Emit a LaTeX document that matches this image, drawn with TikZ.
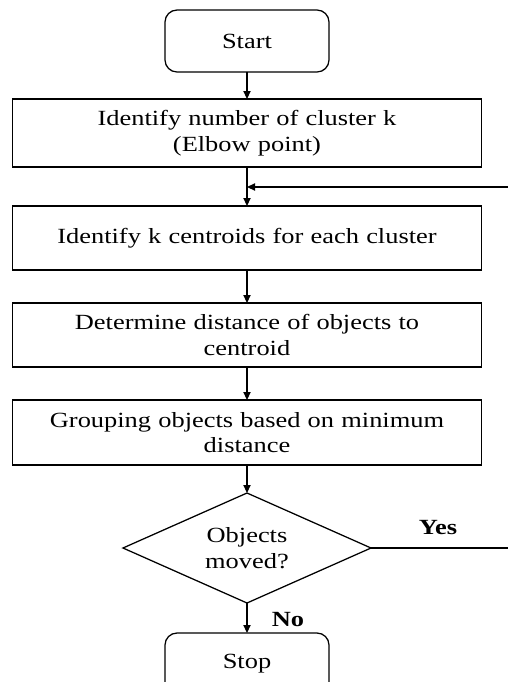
\documentclass[tikz,border=0pt]{standalone}
\usepackage{fontspec}
\setmainfont{Liberation Serif}[FakeStretch=1.22]
\usetikzlibrary{shapes.geometric, arrows.meta, positioning}
\newcommand\flowfont{\fontsize{15.4}{18.3}\selectfont}
\tikzset{
  termbox/.style={draw, line width=0.9pt, outer sep=0pt, rounded corners=0.3cm,
    minimum width=4.1cm, minimum height=1.55cm, font=\flowfont},
  procbox/.style={draw, line width=0.9pt, outer sep=0pt, minimum width=11.725cm,
    minimum height=1.6cm, text width=11.2cm, align=center, font=\flowfont},
  decbox/.style={draw, diamond, aspect=2.25, line width=0.9pt, outer sep=0pt,
    minimum width=6.2cm, minimum height=2.75cm, inner sep=0pt, align=center,
    font=\flowfont},
  flowarrow/.style={-{Triangle[length=0.2cm,width=0.18cm]}, line width=0.9pt},
  flowline/.style={line width=0.9pt},
  branchlbl/.style={font=\flowfont\bfseries}
}
\begin{document}
\begin{tikzpicture}
    \useasboundingbox (0,0) rectangle (12.7,-17.05);
    \clip (0,0) rectangle (12.7,-17.05);

    \node[termbox] (start) at (6.175,-1.025) {Start};
    \node[procbox, minimum height=1.7cm, below=0.675cm of start] (elbow)
      {Identify number of cluster k\\(Elbow point)};
    \node[procbox, below=0.975cm of elbow] (cent)
      {Identify k centroids for each cluster};
    \node[procbox, below=0.825cm of cent] (dist)
      {Determine distance of objects to\\centroid};
    \node[procbox, minimum height=1.625cm, below=0.825cm of dist] (group)
      {Grouping objects based on minimum\\distance};
    \node[decbox, below=0.7cm of group] (moved) {Objects\\moved?};
    \node[termbox, below=0.75cm of moved] (stop) {Stop};

    % loop back ends at the right margin
    \coordinate (loopin) at (12.7,-4.675);
    \coordinate (loopout) at (moved.east -| loopin);

    \draw[flowarrow] (start.south) -- (elbow.north);
    \draw[flowarrow] (elbow.south) -- (cent.north);
    \draw[flowarrow] (cent.south) -- (dist.north);
    \draw[flowarrow] (dist.south) -- (group.north);
    \draw[flowarrow] (group.south) -- (moved.north);
    \draw[flowarrow] (moved.south) -- (stop.north);
    \draw[flowline] (moved.east) -- (loopout);
    \draw[flowarrow] (loopin) -- (loopin -| elbow.south);

    \node[branchlbl] (yes) at (10.95,-13.2) {Yes};
    \node[branchlbl] (no) at (7.2,-15.5) {No};
\end{tikzpicture}
\end{document}
